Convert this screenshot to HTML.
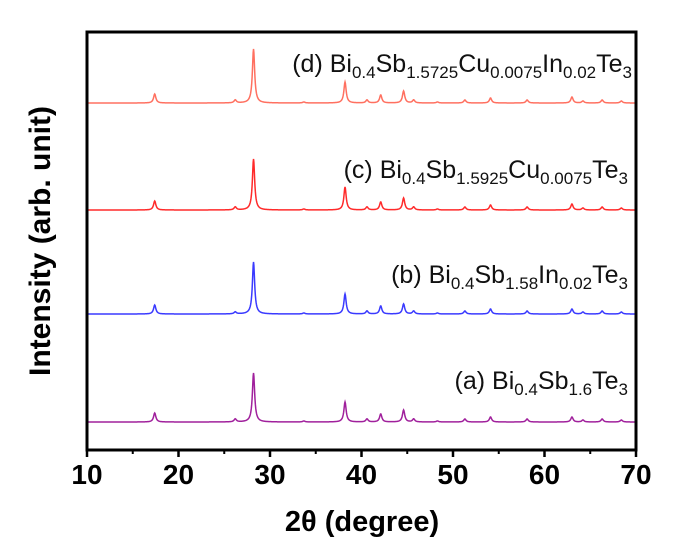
<!DOCTYPE html>
<html><head><meta charset="utf-8">
<style>
body{margin:0;background:#fff;}
svg{display:block;font-family:"Liberation Sans",sans-serif;}
.lbl{font-size:25px;fill:#111;}
.sub{font-size:17px;}
</style></head>
<body>
<svg id="chart" width="676" height="558" viewBox="0 0 676 558">
<g id="series"></g>
<rect x="87" y="32" width="549" height="418" fill="none" stroke="#000" stroke-width="3"/>
<g id="ticks"></g>
<text x="362" y="531" text-anchor="middle" font-size="29" font-weight="bold">2θ (degree)</text>
<text transform="translate(50,241) rotate(-90)" text-anchor="middle" font-size="30" font-weight="bold">Intensity (arb. unit)</text>
<text class="lbl" x="632" y="72" text-anchor="end">(d) Bi<tspan class="sub" dy="6">0.4</tspan><tspan dy="-6">Sb</tspan><tspan class="sub" dy="6">1.5725</tspan><tspan dy="-6">Cu</tspan><tspan class="sub" dy="6">0.0075</tspan><tspan dy="-6">In</tspan><tspan class="sub" dy="6">0.02</tspan><tspan dy="-6">Te</tspan><tspan class="sub" dy="6">3</tspan></text>
<text class="lbl" x="628" y="178" text-anchor="end">(c) Bi<tspan class="sub" dy="6">0.4</tspan><tspan dy="-6">Sb</tspan><tspan class="sub" dy="6">1.5925</tspan><tspan dy="-6">Cu</tspan><tspan class="sub" dy="6">0.0075</tspan><tspan dy="-6">Te</tspan><tspan class="sub" dy="6">3</tspan></text>
<text class="lbl" x="628" y="283" text-anchor="end">(b) Bi<tspan class="sub" dy="6">0.4</tspan><tspan dy="-6">Sb</tspan><tspan class="sub" dy="6">1.58</tspan><tspan dy="-6">In</tspan><tspan class="sub" dy="6">0.02</tspan><tspan dy="-6">Te</tspan><tspan class="sub" dy="6">3</tspan></text>
<text class="lbl" x="628" y="389" text-anchor="end">(a) Bi<tspan class="sub" dy="6">0.4</tspan><tspan dy="-6">Sb</tspan><tspan class="sub" dy="6">1.6</tspan><tspan dy="-6">Te</tspan><tspan class="sub" dy="6">3</tspan></text>
</svg>
<script>
const peakPositions = [17.4, 26.2, 28.2, 33.7, 38.2, 40.6, 42.1, 44.6, 45.7, 48.3, 51.3, 54.1, 58.1, 63.0, 64.2, 66.3, 68.4];
const intensityA = [9, 3, 49, 1, 20, 3, 8, 12, 3, 1, 3, 5, 3, 5, 2, 3, 2];
const intensityB = [9, 2, 52, 1, 20, 3, 8, 10, 3, 1, 3, 5, 3, 5, 2, 3, 2];
const intensityC = [9, 3, 51, 1, 23, 3, 8, 12, 3, 1, 3, 5, 3, 6, 2, 3, 2];
const intensityD = [9, 3, 54, 1, 21, 3, 8, 12, 3, 1, 3, 5, 3, 6, 2, 3, 2];
const seriesBaselines = [422, 314, 210, 103];
const xTicks = [10, 20, 30, 40, 50, 60, 70];
const xMinor = [15, 25, 35, 45, 55, 65];

const x = v => 87 + (v - 10) / 60 * 549;
const NS = "http://www.w3.org/2000/svg";
const series = [
  {vals: intensityA, color: "#a0209c", name: "series-a"},
  {vals: intensityB, color: "#3a3aff", name: "series-b"},
  {vals: intensityC, color: "#ff2a2a", name: "series-c"},
  {vals: intensityD, color: "#ff7060", name: "series-d"}
];
const g = document.getElementById("series");
series.forEach((s, i) => {
  const base = seriesBaselines[i];
  let d = "";
  for (let t = 10; t <= 70.001; t += 0.04) {
    let y = 0;
    peakPositions.forEach((p, k) => {
      const w = 0.15;
      y += s.vals[k] / (1 + ((t - p) / w) ** 2);
    });
    d += (d ? "L" : "M") + x(t).toFixed(2) + "," + (base - y).toFixed(2);
  }
  const path = document.createElementNS(NS, "path");
  path.setAttribute("d", d);
  path.setAttribute("fill", "none");
  path.setAttribute("stroke", s.color);
  path.setAttribute("stroke-width", "1.5");
  
  
  g.appendChild(path);
});
const tg = document.getElementById("ticks");
xTicks.forEach(v => {
  const l = document.createElementNS(NS, "line");
  l.setAttribute("x1", x(v)); l.setAttribute("x2", x(v));
  l.setAttribute("y1", 450); l.setAttribute("y2", 457);
  l.setAttribute("stroke", "#000"); l.setAttribute("stroke-width", "2.5");
  
  
  tg.appendChild(l);
  const t = document.createElementNS(NS, "text");
  t.setAttribute("x", x(v)); t.setAttribute("y", 484);
  t.setAttribute("text-anchor", "middle");
  t.setAttribute("font-size", "28"); t.setAttribute("font-weight", "bold");
  t.textContent = v;
  
  
  tg.appendChild(t);
});
xMinor.forEach(v => {
  const l = document.createElementNS(NS, "line");
  l.setAttribute("x1", x(v)); l.setAttribute("x2", x(v));
  l.setAttribute("y1", 450); l.setAttribute("y2", 454);
  l.setAttribute("stroke", "#000"); l.setAttribute("stroke-width", "2");
  
  
  tg.appendChild(l);
});
</script>
</body></html>
